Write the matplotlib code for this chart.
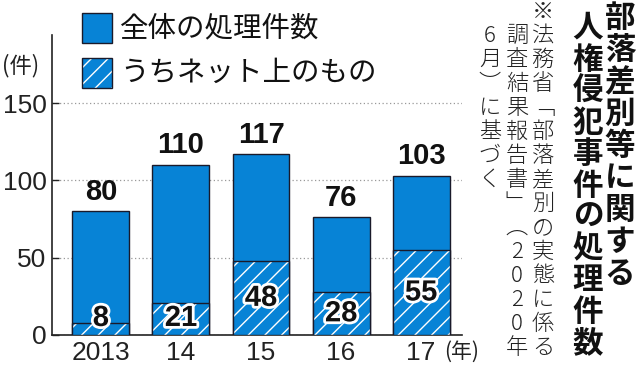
import matplotlib
matplotlib.use('Agg')
import matplotlib.pyplot as plt
import matplotlib.patheffects as pe
from matplotlib.patches import Rectangle

## data
years = ['2013', '14', '15', '16', '17']
total = [80, 110, 117, 76, 103]
online = [8, 21, 48, 28, 55]

legend_labels = ['全体の処理件数', 'うちネット上のもの']
title_cols = ['部落差別等に関する', '人権侵犯事件の処理件数']
# vertical presentation forms for the brackets
note_cols = ['※法務省﹁部落差別の実態に係る', '調査結果報告書﹂︵2020年', '6月︶に基づく']

BLUE = '#0783d6'
EDGE = '#1a1a2a'
CJK = ['Noto Sans CJK JP', 'DejaVu Sans']
NUM = ['Liberation Sans', 'DejaVu Sans']

plt.rcParams['font.family'] = CJK
plt.rcParams['hatch.linewidth'] = 1.0

W, H = 640, 368
fig = plt.figure(figsize=(6.4, 3.68), dpi=100)
ax = fig.add_axes([52 / W, 1 - 335 / H, 410 / W, 300 / H])

x = list(range(len(years)))
bw = 0.71
ax.bar(x, total, width=bw, color=BLUE, edgecolor=EDGE, linewidth=1.0, zorder=2)
# hatch takes the edge colour, so draw white hatching first and outline after
ax.bar(x, online, width=bw, color=BLUE, edgecolor='white', linewidth=0,
       hatch='//', zorder=3)
ax.bar(x, online, width=bw, fill=False, edgecolor=EDGE, linewidth=1.0, zorder=4)

for xi, t, o in zip(x, total, online):
    ax.annotate(str(t), (xi, t), xytext=(0, 4), textcoords='offset points',
                ha='center', va='bottom', fontsize=21, fontweight='bold',
                family=NUM, color='#111111', zorder=5)
    ax.text(xi, max(o / 2, 11), str(o), ha='center', va='center', fontsize=21,
            fontweight='bold', family=NUM, color='#111111', zorder=5,
            path_effects=[pe.withStroke(linewidth=4, foreground='white')])

ax.set_xlim(-0.61, 4.51)
ax.set_ylim(0, 194)
ax.set_yticks([0, 50, 100, 150])
ax.set_xticks(x)
ax.set_xticklabels(years, family=NUM, fontsize=19)
for lab in ax.get_yticklabels():
    lab.set_family(NUM)
    lab.set_fontsize(19)
ax.tick_params(axis='y', direction='in', length=5, width=1, pad=4, colors='#222222')
ax.tick_params(axis='x', length=0, pad=4, colors='#222222')
ax.grid(axis='y', linestyle=(0, (1, 2)), color='#999999', linewidth=0.9, zorder=0)
for s in ['top', 'right']:
    ax.spines[s].set_visible(False)
for s in ['left', 'bottom']:
    ax.spines[s].set_color('#222222')
    ax.spines[s].set_linewidth(1.2)

fig.text(21 / W, 1 - 66 / H, '(件)', ha='center', va='center', fontsize=16, color='#222222')
fig.text(462 / W, 1 - 352 / H, '(年)', ha='center', va='center', fontsize=15, color='#222222')

# legend drawn by hand
fig.add_artist(Rectangle((82 / W, 1 - 43 / H), 30 / W, 30 / H, transform=fig.transFigure,
                         facecolor=BLUE, edgecolor=EDGE, linewidth=1.0))
fig.add_artist(Rectangle((82 / W, 1 - 88 / H), 30 / W, 30 / H, transform=fig.transFigure,
                         facecolor=BLUE, edgecolor='white', linewidth=0, hatch='//'))
fig.add_artist(Rectangle((82 / W, 1 - 88 / H), 30 / W, 30 / H, transform=fig.transFigure,
                         fill=False, edgecolor=EDGE, linewidth=1.0))
fig.text(120 / W, 1 - 28 / H, legend_labels[0], ha='left', va='center', fontsize=20.5, color='#111111')
fig.text(120 / W, 1 - 73 / H, legend_labels[1], ha='left', va='center', fontsize=20.5, color='#111111')


def vertical(col, xc, y0, pitch, **kw):
    # one character per step, top to bottom
    for i, ch in enumerate(col):
        fig.text(xc / W, 1 - (y0 + i * pitch) / H, ch, ha='center', va='center', **kw)


vertical(title_cols[0], 620, 18, 32, fontsize=22, fontweight='bold', color='#111111')
vertical(title_cols[1], 588, 28, 31.5, fontsize=22, fontweight='bold', color='#111111')
vertical(note_cols[0], 543, 12, 24, fontsize=16, fontweight='light', color='#222222')
vertical(note_cols[1], 517, 36, 24, fontsize=16, fontweight='light', color='#222222')
vertical(note_cols[2], 490, 36, 24, fontsize=16, fontweight='light', color='#222222')

fig.savefig('out.png', dpi=100)
